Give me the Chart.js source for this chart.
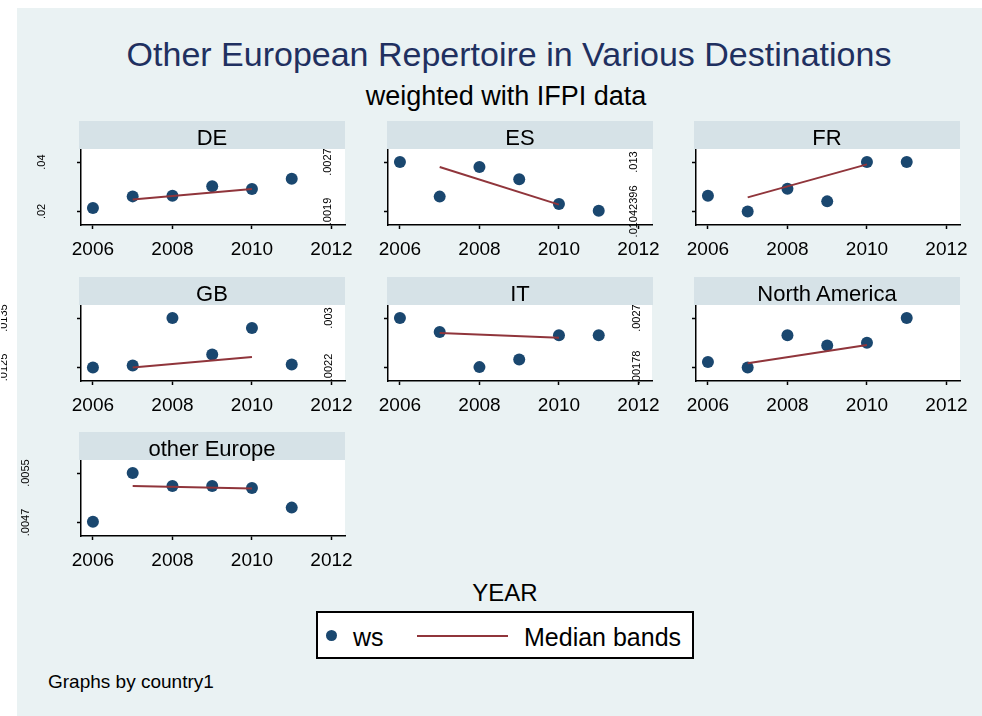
<!DOCTYPE html>
<html><head><meta charset="utf-8">
<script src="https://cdn.jsdelivr.net/npm/chart.js@4.4.1/dist/chart.umd.min.js"></script>
<style>
body{margin:0;background:#fff;width:982px;height:716px;overflow:hidden;position:relative;font-family:"Liberation Sans",Arial,sans-serif;color:#000;}
#bg{position:absolute;left:17px;top:8px;width:965px;height:708px;background:#eaf2f3;}
.t{position:absolute;white-space:nowrap;line-height:1;}
.strip{position:absolute;background:#d6e2e7;z-index:5;height:28px;line-height:33px;font-size:22px;text-align:center;white-space:nowrap;}
canvas{position:absolute;z-index:2;}
#legend{position:absolute;left:316px;top:611px;width:374px;height:44px;border:2px solid #000;background:#fff;z-index:3;}
</style></head><body>
<div id="bg"></div>
<div class="t" style="left:109px;top:37px;width:800px;text-align:center;font-size:34px;color:#1f3060;">Other European Repertoire in Various Destinations</div>
<div class="t" style="left:106px;top:83px;width:800px;text-align:center;font-size:27px;">weighted with IFPI data</div>
<div class="t" style="left:305px;top:581px;width:400px;text-align:center;font-size:24px;">YEAR</div>
<div id="legend"></div>
<div style="position:absolute;left:326px;top:630px;width:11px;height:11px;border-radius:50%;background:#1a476f;z-index:4;"></div>
<div class="t" style="left:353px;top:625px;font-size:25px;z-index:4;">ws</div>
<div style="position:absolute;left:417px;top:635px;width:91px;height:2px;background:#90353b;z-index:4;"></div>
<div class="t" style="left:524px;top:625px;font-size:25px;z-index:4;">Median bands</div>
<div class="t" style="left:48px;top:672px;font-size:19px;">Graphs by country1</div>
<script>
// ---- data ----
const years = [2006, 2007, 2008, 2009, 2010, 2011];
const bandYears = [2007, 2010];
const xTicks = [2006, 2008, 2010, 2012];
const countries = ['DE', 'ES', 'FR', 'GB', 'IT', 'North America', 'other Europe'];

const wsDE = [0.0214, 0.0261, 0.0264, 0.0302, 0.0291, 0.0332];
const bandDE = [0.0248, 0.0291];
const yTicksDE = [0.02, 0.04];
const yLabelsDE = ['.02', '.04'];

const wsES = [0.00270, 0.00214, 0.00262, 0.00242, 0.00202, 0.00191];
const bandES = [0.00262, 0.00201];
const yTicksES = [0.0019, 0.0027];
const yLabelsES = ['.0019', '.0027'];

const wsFR = [0.01123, 0.01040, 0.01160, 0.01093, 0.01300, 0.01300];
const bandFR = [0.01114, 0.01288];
const yTicksFR = [0.0104, 0.013];
const yLabelsFR = ['.01042396', '.013'];

const wsGB = [0.01250, 0.01254, 0.01350, 0.01276, 0.01330, 0.01256];
const bandGB = [0.01250, 0.01271];
const yTicksGB = [0.0125, 0.0135];
const yLabelsGB = ['.0125', '.0135'];

const wsIT = [0.003, 0.002774, 0.002205, 0.00233, 0.00272, 0.00272];
const bandIT = [0.002757, 0.002682];
const yTicksIT = [0.0022, 0.003];
const yLabelsIT = ['.0022', '.003'];

const wsNA = [0.00188, 0.00178, 0.00238, 0.00219, 0.00224, 0.0027];
const bandNA = [0.00186, 0.0022];
const yTicksNA = [0.00178, 0.0027];
const yLabelsNA = ['.00178', '.0027'];

const wsOE = [0.00471, 0.0055, 0.00529, 0.00529, 0.00526, 0.00494];
const bandOE = [0.00529, 0.00525];
const yTicksOE = [0.0047, 0.0055];
const yLabelsOE = ['.0047', '.0055'];

// ---- layout ----
const panels = [
  {name: countries[0], c: 0, r: 0, ws: wsDE, band: bandDE, yt: yTicksDE, yl: yLabelsDE, off: 39},
  {name: countries[1], c: 1, r: 0, ws: wsES, band: bandES, yt: yTicksES, yl: yLabelsES, off: 60},
  {name: countries[2], c: 2, r: 0, ws: wsFR, band: bandFR, yt: yTicksFR, yl: yLabelsFR, off: 62},
  {name: countries[3], c: 0, r: 1, ws: wsGB, band: bandGB, yt: yTicksGB, yl: yLabelsGB, off: 77},
  {name: countries[4], c: 1, r: 1, ws: wsIT, band: bandIT, yt: yTicksIT, yl: yLabelsIT, off: 59},
  {name: countries[5], c: 2, r: 1, ws: wsNA, band: bandNA, yt: yTicksNA, yl: yLabelsNA, off: 59},
  {name: countries[6], c: 0, r: 2, ws: wsOE, band: bandOE, yt: yTicksOE, yl: yLabelsOE, off: 55}
];
const FAM = "'Liberation Sans', Arial, sans-serif";
Chart.defaults.font.family = FAM;
const colX = [81, 388, 696];
const rowTop = [149, 305, 460];
const stripLeft = [79, 387, 694];
const PW = 264, PH = 76, YW = 80, PT = 10, PR = 26, XH = 36, TL = 4, YFS = 11;
const mctx = document.createElement('canvas').getContext('2d');
function widest(labels) {
  mctx.font = 'normal ' + YFS + 'px ' + FAM;
  return Math.max(...labels.map(l => mctx.measureText(l).width));
}
const plotBg = {
  id: 'plotBg',
  beforeDraw(chart) {
    const {ctx, chartArea: a} = chart;
    ctx.save();
    ctx.fillStyle = '#ffffff';
    ctx.fillRect(a.left, a.top, a.right - a.left, a.bottom - a.top);
    ctx.restore();
  }
};

panels.forEach(p => {
  const strip = document.createElement('div');
  strip.className = 'strip';
  strip.style.left = stripLeft[p.c] + 'px';
  strip.style.top = (rowTop[p.r] - 28) + 'px';
  strip.style.width = '266px';
  strip.textContent = p.name;
  document.body.appendChild(strip);

  const cv = document.createElement('canvas');
  cv.width = YW + PW + PR;
  cv.height = PT + PH + XH;
  cv.style.left = (colX[p.c] - YW) + 'px';
  cv.style.top = (rowTop[p.r] - PT) + 'px';
  document.body.appendChild(cv);

  const lo = p.yt[0], hi = p.yt[1], d = hi - lo;
  const pad = p.off - TL - widest(p.yl) / 2;

  new Chart(cv, {
    type: 'scatter',
    data: {
      datasets: [
        {label: 'Median bands', type: 'line', data: bandYears.map((x, i) => ({x, y: p.band[i]})),
         borderColor: '#90353b', borderWidth: 2, pointRadius: 0, fill: false, tension: 0},
        {label: 'ws', data: years.map((x, i) => ({x, y: p.ws[i]})),
         backgroundColor: '#1a476f', borderColor: '#1a476f', borderWidth: 0, pointRadius: 6}
      ]
    },
    options: {
      responsive: false, animation: false, devicePixelRatio: 1,
      layout: {padding: {top: PT, right: PR, left: 0, bottom: 0}},
      plugins: {legend: {display: false}, tooltip: {enabled: false}},
      scales: {
        x: {
          type: 'linear', min: 2005.7, max: 2012.34,
          afterBuildTicks: s => { s.ticks = xTicks.map(v => ({value: v})); },
          afterFit: s => { s.height = XH; s.paddingLeft = 0; s.paddingRight = 0; },
          grid: {drawOnChartArea: false, drawTicks: true, tickLength: TL, tickColor: '#000', tickWidth: 1.5},
          border: {color: '#000', width: 1.5},
          ticks: {autoSkip: false, maxRotation: 0, minRotation: 0, padding: 9, color: '#000',
                  font: {size: 19}, callback: v => String(v)}
        },
        y: {
          min: lo - 0.275 * d, max: hi + 0.265 * d,
          afterBuildTicks: s => { s.ticks = p.yt.map(v => ({value: v})); },
          afterFit: s => { s.width = YW; s.paddingTop = 0; s.paddingBottom = 0; },
          grid: {drawOnChartArea: false, drawTicks: true, tickLength: TL, tickColor: '#000', tickWidth: 1.5},
          border: {color: '#000', width: 1.5},
          ticks: {autoSkip: false, minRotation: 90, maxRotation: 90, crossAlign: 'center', padding: pad,
                  color: '#000', font: {size: YFS}, callback: (v, i) => p.yl[i]}
        }
      }
    },
    plugins: [plotBg]
  });
});
</script>
</body></html>
